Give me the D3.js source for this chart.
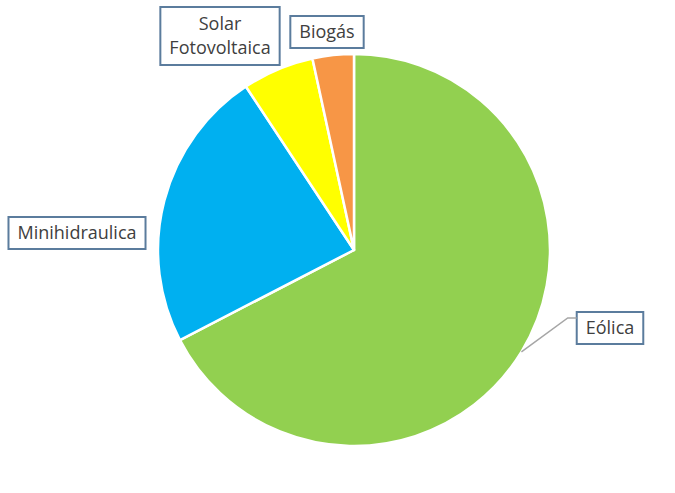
<!DOCTYPE html>
<meta charset="utf-8">
<script src="https://d3js.org/d3.v7.min.js"></script>
<style>
  body { margin: 0; background: #fff; }
</style>
<div id="chart"></div>
<script>

    // data (share of installed power, %)
    const categories = ["Eólica", "Minihidraulica", "Solar Fotovoltaica", "Biogás"];
    const values = [67.4, 23.3, 5.9, 3.4];
    const colors = ["#92D050", "#00B0F0", "#FFFF00", "#F79646"];

    const width = 675, height = 493;
    const cx = 354, cy = 250, radius = 196;

    const svg = d3.select("#chart")
      .append("svg")
        .attr("width", width)
        .attr("height", height);

    const data = categories.map((c, i) => ({ name: c, value: values[i], color: colors[i] }));

    const pie = d3.pie()
      .sort(null)
      .value(d => d.value);

    const arc = d3.arc()
      .innerRadius(0)
      .outerRadius(radius);

    const arcs = pie(data);

    const g = svg.append("g")
      .attr("transform", `translate(${cx}, ${cy})`);

    g.selectAll("path")
      .data(arcs)
      .join("path")
        .attr("d", arc)
        .attr("fill", d => d.data.color)
        .attr("stroke", "#fff")
        .attr("stroke-width", 2.5)
        .attr("stroke-linejoin", "round");

    // label placement (box centre relative to pie centre), like Excel's manual layout
    const labelPos = {
      "Eólica": [256, 78],
      "Minihidraulica": [-277, -17],
      "Solar Fotovoltaica": [-134, -214],
      "Biogás": [-27, -218]
    };

    const font = "'Open Sans', sans-serif";
    const fontSize = 18;
    const lineH = 24;
    const padX = 9, padY = 4;

    arcs.forEach(d => {
      const [lx, ly] = labelPos[d.data.name];
      const lines = d.data.name === "Solar Fotovoltaica" ? ["Solar", "Fotovoltaica"] : [d.data.name];
      const lg = g.append("g").attr("transform", `translate(${lx}, ${ly})`);

      const txt = lg.append("text")
        .attr("text-anchor", "middle")
        .style("font-family", font)
        .style("font-size", fontSize + "px")
        .attr("fill", "#404040");
      lines.forEach((l, i) => {
        txt.append("tspan")
          .attr("x", 0)
          .attr("y", (i - (lines.length - 1) / 2) * lineH)
          .attr("dy", "0.35em")
          .text(l);
      });

      const bb = txt.node().getBBox();
      const bw = bb.width + padX * 2;
      const bh = lines.length * lineH + padY * 2 + (lines.length > 1 ? 2 : 0);
      lg.insert("rect", "text")
        .attr("x", -bw / 2)
        .attr("y", -bh / 2)
        .attr("width", bw)
        .attr("height", bh)
        .attr("fill", "#fff")
        .attr("stroke", "#5B7C9D")
        .attr("stroke-width", 2);

      // leader line for the label that sits away from its slice
      if (d.data.name === "Eólica") {
        const a = (d.startAngle + d.endAngle) / 2;
        const p0 = [Math.sin(a) * radius, -Math.cos(a) * radius];
        const p1 = [lx - bw / 2 - 9, ly - 10];
        const p2 = [lx - bw / 2, ly - 10];
        g.append("path")
          .attr("d", d3.line()([p0, p1, p2]))
          .attr("fill", "none")
          .attr("stroke", "#A6A6A6")
          .attr("stroke-width", 1.5);
      }
    });

</script>
